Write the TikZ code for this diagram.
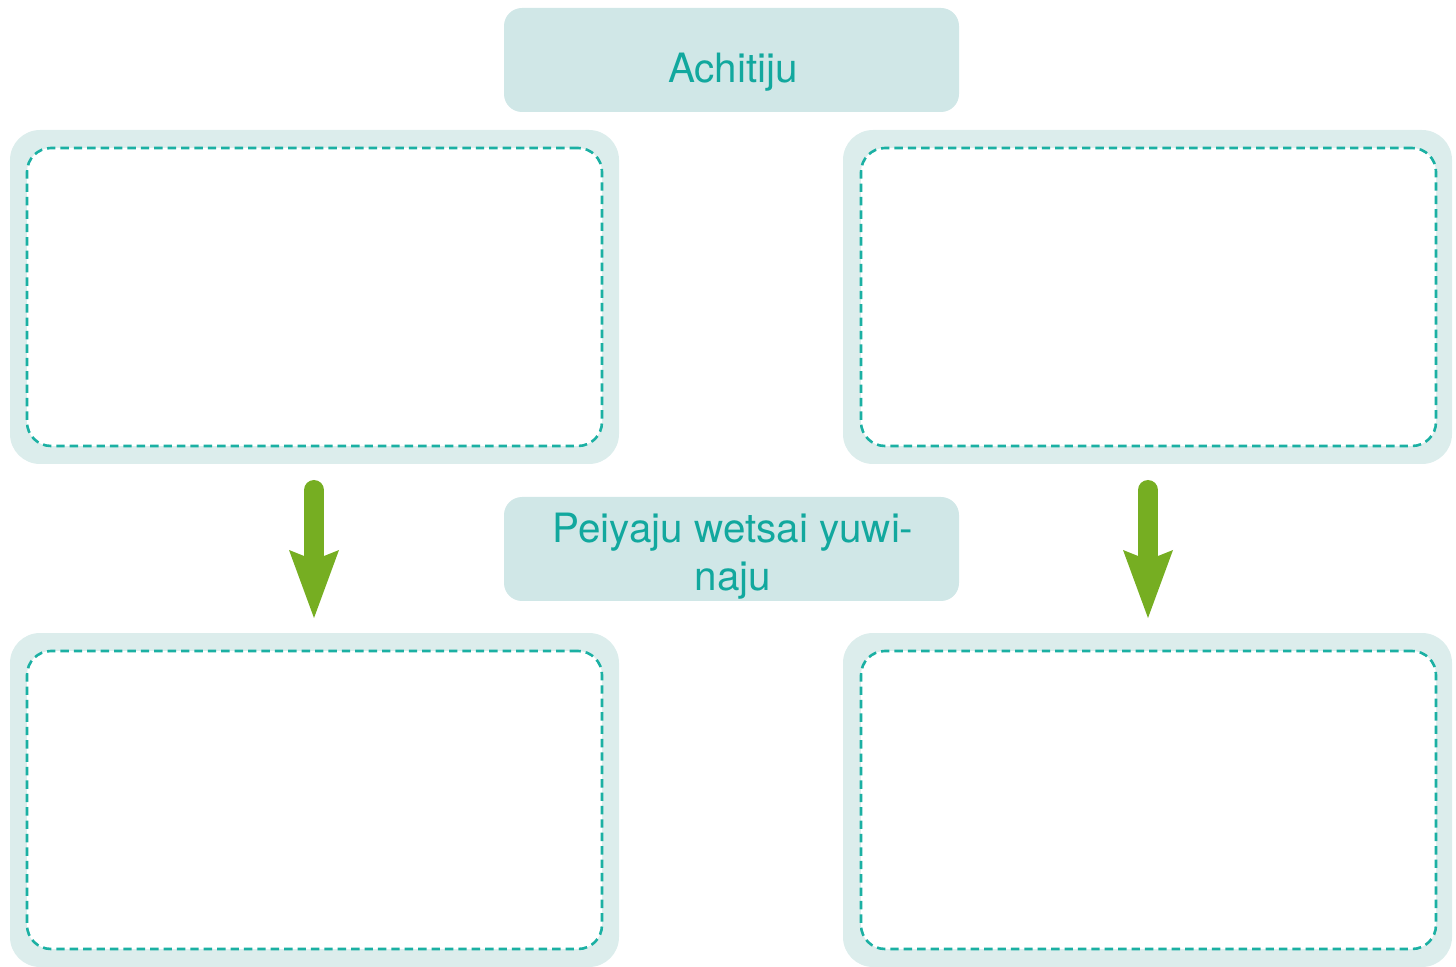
\documentclass[tikz,border=0pt]{standalone}
\usepackage{fontspec}
\setmainfont{TeX Gyre Heros}
\usetikzlibrary{arrows.meta}
\definecolor{outerfill}{HTML}{DCEDEC}
\definecolor{labfill}{HTML}{D0E7E7}
\definecolor{tealtext}{HTML}{12A89E}
\definecolor{dashcol}{HTML}{1BB0A3}
\definecolor{arrgreen}{HTML}{76AE22}
\tikzset{
  outerbox/.style={draw=none, fill=outerfill, rounded corners=15pt, minimum width=304.5pt, minimum height=167pt, inner sep=0pt},
  innerbox/.style={draw=dashcol, fill=white, line width=1.3pt, dash pattern=on 4.2pt off 2.5pt, rounded corners=12pt, minimum width=287.5pt, minimum height=149pt, inner sep=0pt},
  labelbox/.style={fill=labfill, rounded corners=9pt, minimum width=227.5pt, minimum height=52pt, inner sep=0pt},
  labeltext/.style={inner sep=0pt, text=tealtext, font=\fontsize{20.2pt}{24pt}\selectfont, align=center},
  greenarrow/.style={draw=arrgreen, line width=10pt, line cap=round, -{Stealth[length=34pt, width=25pt, inset=5pt, line width=0pt]}}
}
\begin{document}
\begin{tikzpicture}[x=0.5pt, y=-0.5pt]
\useasboundingbox (0,0) rectangle (1456,967);
% title
\node[labelbox] (title) at (731.5,60) {};
\node[labeltext] (titletext) at (733,72) {Achitiju};
% outer boxes
\node[outerbox] (tlo) at (314.5,297) {};
\node[outerbox] (tro) at (1147.5,297) {};
\node[outerbox] (blo) at (314.5,800) {};
\node[outerbox] (bro) at (1147.5,800) {};
% inner dashed boxes
\node[innerbox] (tli) at (314.5,297) {};
\node[innerbox] (tri) at (1148.5,297) {};
\node[innerbox] (bli) at (314.5,800) {};
\node[innerbox] (bri) at (1148.5,800) {};
% middle label
\node[labelbox] (mid) at (731.5,549) {};
\node[labeltext] (midtext) at (733,556) {Peiyaju wetsai yuwi-\\naju};
% arrows
\coordinate (la1) at (314,490);
\coordinate (la2) at (314,618);
\coordinate (ra1) at (1148,490);
\coordinate (ra2) at (1148,618);
\draw[greenarrow] (la1) -- (la2);
\draw[greenarrow] (ra1) -- (ra2);
\end{tikzpicture}
\end{document}
